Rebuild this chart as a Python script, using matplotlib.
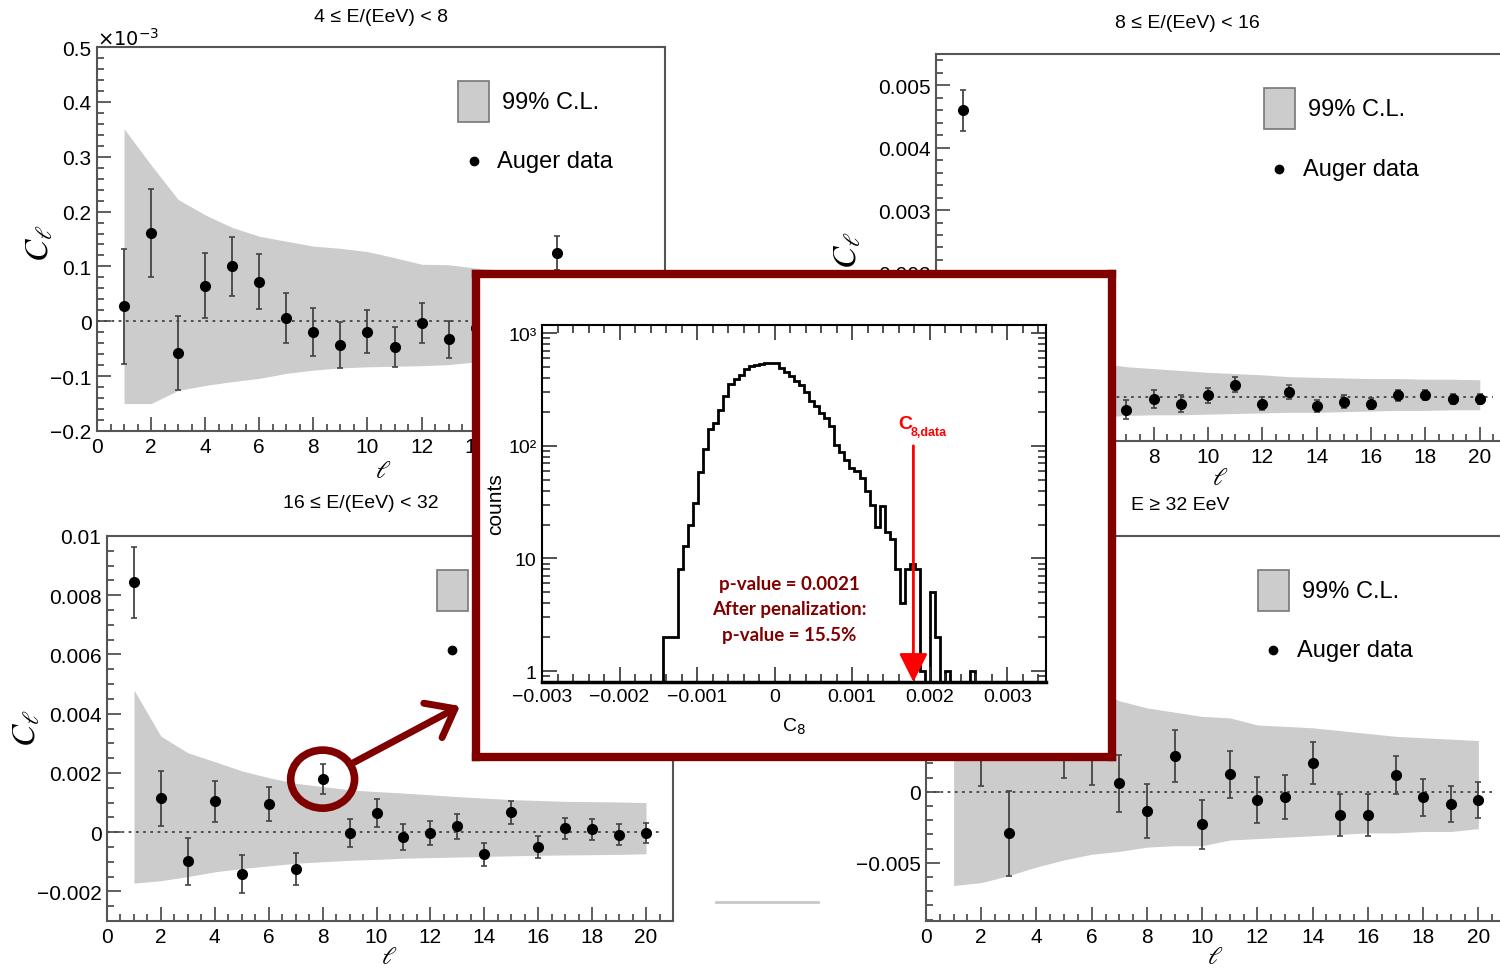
import numpy as np
import matplotlib
matplotlib.use("Agg")
import matplotlib.pyplot as plt
from matplotlib.patches import Rectangle, Ellipse
from matplotlib.lines import Line2D
from matplotlib.ticker import MultipleLocator, FuncFormatter, FixedLocator, LogLocator, NullFormatter

plt.rcParams['font.family'] = ['Liberation Sans', 'DejaVu Sans']

W, H = 1500, 970
band_grey = '#cccccc'
dark_red = '#800000'

# multipole order
ell = np.arange(1, 21)

# 4 <= E/EeV < 8  (axis in units of 1e-3)
cl_4_8 = [0.027, 0.161, -0.058, 0.065, 0.100, 0.072, 0.006, -0.019, -0.044, -0.019,
          -0.047, -0.003, -0.033, -0.012, 0.018, -0.028, 0.124, 0.008, -0.022, 0.002]
err_4_8 = [0.105, 0.080, 0.067, 0.059, 0.054, 0.050, 0.046, 0.044, 0.042, 0.039,
           0.037, 0.036, 0.034, 0.033, 0.032, 0.031, 0.031, 0.030, 0.029, 0.028]
lo_4_8 = [-0.150, -0.150, -0.126, -0.117, -0.110, -0.104, -0.095, -0.089, -0.085, -0.083,
          -0.082, -0.081, -0.079, -0.074, -0.072, -0.070, -0.068, -0.066, -0.064, -0.062]
hi_4_8 = [0.351, 0.285, 0.222, 0.194, 0.171, 0.155, 0.146, 0.137, 0.133, 0.127,
          0.116, 0.104, 0.103, 0.097, 0.093, 0.090, 0.087, 0.085, 0.083, 0.080]

# 8 <= E/EeV < 16
cl_8_16 = [0.0046, 0.0002, -0.0001, 0.0003, 0.0001, -0.0002, -0.0002, -0.00003, -0.0001, 0.00003,
           0.0002, -0.0001, 0.00008, -0.00014, -0.00007, -0.0001, 0.00003, 0.00003, -0.00002, -0.00002]
err_8_16 = [0.00033, 0.00026, 0.00022, 0.0002, 0.00018, 0.00016, 0.00015, 0.00014, 0.00013, 0.00012,
            0.00012, 0.00011, 0.00011, 0.0001, 0.0001, 0.00009, 0.00009, 0.00008, 0.00008, 0.00008]
lo_8_16 = [-0.0006, -0.0005, -0.00045, -0.0004, -0.00035, -0.00032, -0.00029, -0.00028, -0.00028, -0.00027,
           -0.00026, -0.00025, -0.00024, -0.00024, -0.00023, -0.00022, -0.00021, -0.00021, -0.0002, -0.0002]
hi_8_16 = [0.0012, 0.0009, 0.0008, 0.0007, 0.0006, 0.00055, 0.00049, 0.00046, 0.00043, 0.0004,
           0.00038, 0.00036, 0.00033, 0.00032, 0.00031, 0.0003, 0.0003, 0.00029, 0.00029, 0.00028]

# 16 <= E/EeV < 32
cl_16_32 = [0.00843, 0.00115, -0.00099, 0.00104, -0.0014, 0.00095, -0.00125, 0.00179, -0.00003, 0.00065,
            -0.00017, -0.00003, 0.0002, -0.00075, 0.00067, -0.00051, 0.00013, 0.00009, -0.00008, -0.00003]
err_16_32 = [0.0012, 0.00093, 0.0008, 0.0007, 0.00064, 0.00057, 0.00054, 0.0005, 0.00047, 0.00046,
             0.00043, 0.0004, 0.00042, 0.0004, 0.00039, 0.00037, 0.00035, 0.00035, 0.00034, 0.00033]
lo_16_32 = [-0.00172, -0.00164, -0.0015, -0.00134, -0.00123, -0.00114, -0.00105, -0.001, -0.00095, -0.00092,
            -0.00088, -0.00086, -0.00084, -0.00082, -0.0008, -0.00078, -0.00077, -0.00076, -0.00075, -0.00073]
hi_16_32 = [0.0048, 0.00324, 0.00268, 0.00238, 0.00207, 0.00184, 0.00165, 0.00154, 0.00143, 0.00137,
            0.00132, 0.00126, 0.0012, 0.00115, 0.0011, 0.00107, 0.00104, 0.00103, 0.00102, 0.001]

# E >= 32 EeV
cl_32 = [0.0085, 0.0032, -0.00293, 0.0055, 0.0032, 0.0026, 0.00059, -0.00136, 0.00251, -0.0023,
         0.00122, -0.00059, -0.00038, 0.002, -0.00164, -0.00164, 0.00117, -0.00038, -0.00087, -0.00059]
err_32 = [0.0042, 0.0028, 0.003, 0.0024, 0.0022, 0.0021, 0.002, 0.0019, 0.0018, 0.0017,
          0.00167, 0.0016, 0.00153, 0.00147, 0.00146, 0.00146, 0.00136, 0.0013, 0.00129, 0.00125]
lo_32 = [-0.0066, -0.0064, -0.0059, -0.0053, -0.0048, -0.0044, -0.0042, -0.0039, -0.0038, -0.0038,
         -0.0034, -0.0033, -0.0032, -0.0031, -0.003, -0.0029, -0.0029, -0.0028, -0.0028, -0.0026]
hi_32 = [0.0135, 0.0122, 0.0108, 0.0095, 0.0084, 0.0073, 0.0064, 0.0059, 0.0056, 0.0053,
         0.0052, 0.0047, 0.0046, 0.0045, 0.0043, 0.0041, 0.0039, 0.0038, 0.0037, 0.0036]

# inset: isotropic simulations of C8, 100 bins from -0.003 to 0.0035
c8_edges = np.linspace(-0.003, 0.0035, 101)
c8_counts = [0] * 24 + [
    2, 2, 2, 8, 13, 20, 31, 58, 94, 141, 160, 209, 274, 356, 394, 422, 483, 507, 525, 535,
    545, 545, 540, 495, 455, 420, 375, 345, 300, 250, 225, 195, 175, 150, 102, 88, 74, 64, 60, 52,
    40, 30, 19, 29, 17, 15, 8, 4, 8, 9, 8, 1, 0, 5, 2, 0, 1, 0, 0, 0, 0, 1] + [0] * 14
c8_data = cl_16_32[7]


def px_rect(x0, y0, x1, y1):
    return [x0 / W, 1 - y1 / H, (x1 - x0) / W, (y1 - y0) / H]


def fmt(v, pos):
    if abs(v) < 1e-12:
        return '0'
    return f'{v:g}'.replace('-', '\u2212')


def ftext(x, y, s, ax=None, **kw):
    # text placed in figure pixels; attached to an axes so it stacks with it
    if ax is None:
        fig.text(x / W, 1 - y / H, s, **kw)
    else:
        ax.text(x / W, 1 - y / H, s, transform=fig.transFigure, clip_on=False, **kw)


def draw_panel(ax, cl, err, lo, hi, ylim, ymajor, yminor, leg_x, xlab_pos, ylab_pos):
    ax.fill_between(ell, lo, hi, color=band_grey, lw=0, zorder=1)
    ax.hlines(0, 0, ell[-1] + 0.5, colors='#444444', linestyles=(0, (1.5, 2.5)), lw=1.3, zorder=2)
    ax.errorbar(ell, cl, yerr=err, fmt='o', color='black', ms=7, ecolor='#444444',
                elinewidth=1.3, capsize=2, capthick=1.2, zorder=3)
    ax.set_xlim(0, 21)
    ax.set_ylim(*ylim)
    ax.xaxis.set_major_locator(MultipleLocator(2))
    ax.xaxis.set_minor_locator(MultipleLocator(0.5))
    ax.yaxis.set_major_locator(MultipleLocator(ymajor))
    ax.yaxis.set_minor_locator(MultipleLocator(yminor))
    ax.xaxis.set_major_formatter(FuncFormatter(fmt))
    ax.yaxis.set_major_formatter(FuncFormatter(fmt))
    ax.tick_params(which='both', direction='in', top=False, right=False, colors='#444444',
                   labelcolor='black', labelsize=15, width=1.2)
    ax.tick_params(which='major', length=10, pad=4)
    ax.tick_params(which='minor', length=5)
    for s in ax.spines.values():
        s.set_color('#555555')
        s.set_linewidth(1.5)
    # legend
    ax.add_patch(Rectangle((leg_x, 0.805), 0.054, 0.107, transform=ax.transAxes,
                           facecolor=band_grey, edgecolor='#777777', lw=1.2, zorder=4))
    ax.text(leg_x + 0.077, 0.858, '99% C.L.', transform=ax.transAxes, fontsize=17,
            va='center', ha='left')
    ax.plot([leg_x + 0.027], [0.703], 'o', color='black', ms=6, transform=ax.transAxes)
    ax.text(leg_x + 0.068, 0.703, 'Auger data', transform=ax.transAxes, fontsize=17,
            va='center', ha='left')
    # axis labels
    ftext(*xlab_pos, r'$\ell$', ax=ax, fontsize=18, ha='center', va='bottom',
          math_fontfamily='stix')
    ftext(*ylab_pos, r'$C_\ell$', ax=ax, fontsize=24, ha='center', va='center', rotation=90,
          math_fontfamily='stix')


fig = plt.figure(figsize=(15, 9.7), dpi=100)

ax_tl = fig.add_axes(px_rect(97, 48, 665, 432))
draw_panel(ax_tl, cl_4_8, err_4_8, lo_4_8, hi_4_8, (-0.2, 0.5), 0.1, 0.02, 0.636,
           (383, 483), (40, 243))
ax_tr = fig.add_axes(px_rect(936, 55, 1507, 442))
draw_panel(ax_tr, cl_8_16, err_8_16, lo_8_16, hi_8_16, (-0.0007, 0.0055), 0.001, 0.0002, 0.574,
           (1220, 490), (848, 250))
ax_bl = fig.add_axes(px_rect(107, 537, 673, 922))
draw_panel(ax_bl, cl_16_32, err_16_32, lo_16_32, hi_16_32, (-0.003, 0.01), 0.002, 0.0005, 0.583,
           (389, 969), (27, 728))
ax_br = fig.add_axes(px_rect(926, 537, 1506, 922))
draw_panel(ax_br, cl_32, err_32, lo_32, hi_32, (-0.0091, 0.018), 0.005, 0.001, 0.572,
           (1215, 969), (845, 728))

# titles
ftext(381, 17, '4 \u2264 E/(EeV) < 8', fontsize=14, ha='center', va='center')
ftext(1187, 23, '8 \u2264 E/(EeV) < 16', fontsize=14, ha='center', va='center')
ftext(361, 504, '16 \u2264 E/(EeV) < 32', fontsize=14, ha='center', va='center')
ftext(1180, 505, 'E \u2265 32 EeV', fontsize=14, ha='center', va='center')
ftext(97, 46, r'$\times10^{-3}$', ax=ax_tl, fontsize=14, ha='left', va='baseline')

# red circle around C8 and arrow to the inset
ax_bl.add_patch(Ellipse((8, c8_data), 2.37, 0.00196, fill=False, edgecolor=dark_red,
                        lw=5.5, zorder=5))
ax_bl.annotate('', xy=(460 / W, 1 - 707 / H), xycoords='figure fraction',
               xytext=(9.05, 0.0023), textcoords='data',
               arrowprops=dict(arrowstyle='->,head_length=0.45,head_width=0.35', color=dark_red,
                               lw=5, mutation_scale=40, shrinkA=0, shrinkB=0),
               annotation_clip=False, zorder=6)

# small grey line at the bottom
fig.add_artist(Line2D([716 / W, 818 / W], [1 - 903 / H] * 2, color='#c8c8c8', lw=2))

# inset frame
ax_frame = fig.add_axes(px_rect(475.5, 275, 1111.5, 757.5))
ax_frame.set_facecolor('white')
ax_frame.set_xticks([])
ax_frame.set_yticks([])
for s in ax_frame.spines.values():
    s.set_color(dark_red)
    s.set_linewidth(6)

# inset histogram
ax_h = fig.add_axes(px_rect(542, 326, 1046, 683))
y_floor = 0.8
counts = np.array(c8_counts, dtype=float)
ax_h.stairs(np.where(counts > 0, counts, y_floor), c8_edges, color='black', lw=2, baseline=None)
ax_h.set_yscale('log')
ax_h.set_xlim(c8_edges[0], c8_edges[-1])
ax_h.set_ylim(y_floor, 1180)
ax_h.xaxis.set_major_locator(MultipleLocator(0.001))
ax_h.xaxis.set_minor_locator(MultipleLocator(0.0002))
ax_h.xaxis.set_major_formatter(FuncFormatter(fmt))
ax_h.yaxis.set_major_locator(FixedLocator([1, 10, 100, 1000]))
ax_h.yaxis.set_minor_locator(LogLocator(base=10, subs=np.arange(2, 10)))
ax_h.yaxis.set_minor_formatter(NullFormatter())
ylab = {1: '1', 10: '10', 100: '10\u00b2', 1000: '10\u00b3'}
ax_h.yaxis.set_major_formatter(FuncFormatter(lambda v, p: ylab.get(int(round(v)), '')))
ax_h.tick_params(which='both', direction='in', top=True, right=True, labelsize=14,
                 colors='#333333', labelcolor='black', width=1.2)
ax_h.tick_params(which='major', length=11, pad=4)
ax_h.tick_params(which='minor', length=6)
for s in ax_h.spines.values():
    s.set_linewidth(1.5)
ax_h.spines['bottom'].set_linewidth(2.5)
ax_h.set_ylabel('counts', fontsize=15, labelpad=2)
ax_h.set_xlabel(r'C$_8$', fontsize=14, labelpad=8)

ax_h.annotate('', xy=(c8_data, y_floor), xytext=(c8_data, 100),
              arrowprops=dict(arrowstyle='-|>,head_length=0.8,head_width=0.4', color='red',
                              lw=2, mutation_scale=22, shrinkA=0, shrinkB=0))
ftext(898, 429, 'C', fontsize=14, fontweight='bold', color='red', ha='left', va='baseline')
ftext(911, 436, '8,data', fontsize=9, fontweight='bold', color='red', ha='left', va='baseline')
ftext(789, 610, 'p-value = 0.0021\nAfter penalization:\np-value = 15.5%', fontsize=13.5,
      fontweight='bold', color=dark_red, ha='center', va='center', linespacing=1.6,
      family=['Lato', 'DejaVu Sans'])

fig.savefig('out.png', dpi=100)
